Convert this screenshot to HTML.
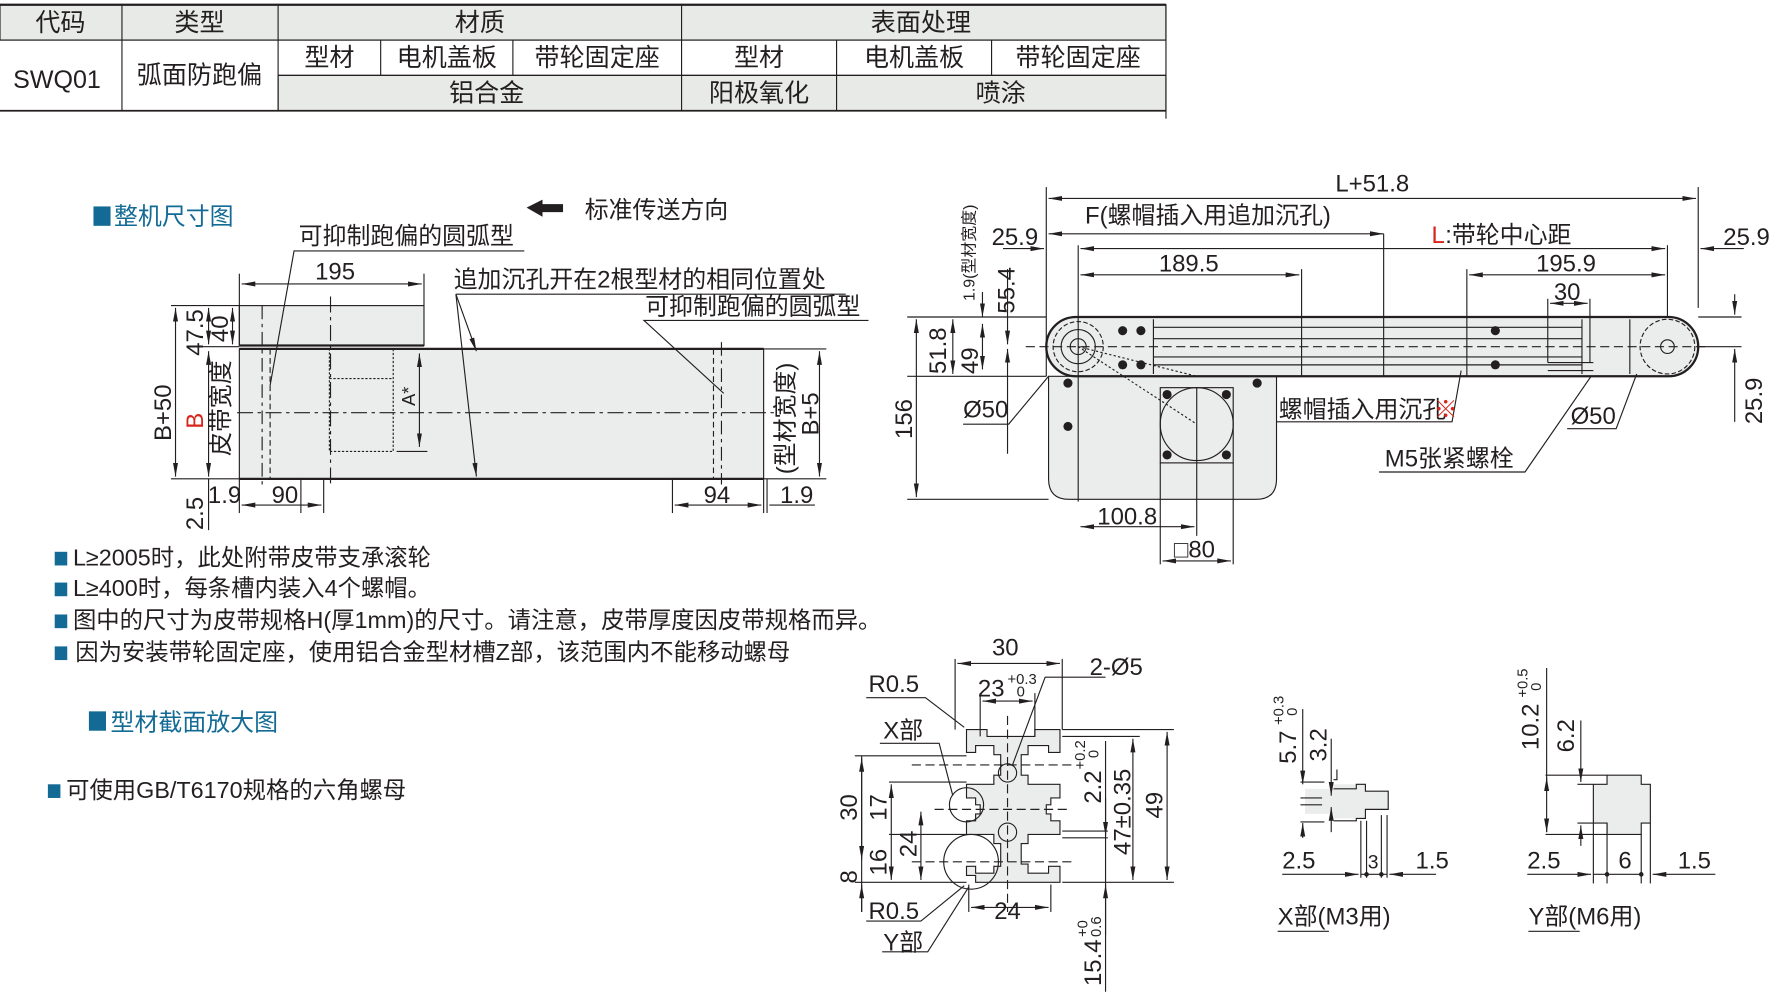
<!DOCTYPE html>
<html><head><meta charset="utf-8"><style>
html,body{margin:0;padding:0;background:#fff;}
svg{display:block;}
text{font-family:"Liberation Sans","Noto Sans CJK SC",sans-serif;fill:#231f20;}
</style></head><body>
<svg width="1778" height="1001" viewBox="0 0 1560 878" xmlns="http://www.w3.org/2000/svg">
<defs>
<marker id="a" viewBox="0 0 12 6" refX="12" refY="3" markerWidth="12" markerHeight="6" orient="auto-start-reverse" markerUnits="userSpaceOnUse"><path d="M0,0.8 L12,3 L0,5.2z" fill="#231f20"/></marker>
</defs>
<!-- TABLE -->
<g stroke="#231f20" stroke-width="1">
<rect x="0" y="4" width="1023" height="31" fill="#e7eae7"/>
<rect x="244" y="66" width="779" height="31" fill="#e7eae7"/>
<line x1="0" y1="4" x2="1023" y2="4" stroke-width="2"/>
<line x1="0" y1="35" x2="1023" y2="35"/>
<line x1="244" y1="66" x2="1023" y2="66"/>
<line x1="0" y1="97" x2="1023" y2="97" stroke-width="1.5"/>
<line x1="107" y1="4" x2="107" y2="97"/><line x1="244" y1="4" x2="244" y2="97"/>
<line x1="598" y1="4" x2="598" y2="97"/><line x1="1023" y1="4" x2="1023" y2="104"/>
<line x1="334" y1="35" x2="334" y2="66"/><line x1="450" y1="35" x2="450" y2="66"/>
<line x1="734" y1="35" x2="734" y2="97"/><line x1="870" y1="35" x2="870" y2="66"/>
</g>
<g font-size="22" text-anchor="middle">
<text x="53" y="27">代码</text><text x="175" y="27">类型</text><text x="421" y="27">材质</text><text x="808" y="27">表面处理</text>
<text x="289" y="58">型材</text><text x="392" y="58">电机盖板</text><text x="524" y="58">带轮固定座</text>
<text x="666" y="58">型材</text><text x="802" y="58">电机盖板</text><text x="946" y="58">带轮固定座</text>
<text x="427" y="89">铝合金</text><text x="666" y="89">阳极氧化</text><text x="878" y="89">喷涂</text>
<text x="50" y="77">SWQ01</text><text x="175" y="73">弧面防跑偏</text>
</g>

<!-- LEFT DRAWING -->
<rect x="82" y="181" width="15" height="17" fill="#136b95"/>
<text x="100" y="197" font-size="21" style="fill:#136b95">整机尺寸图</text>
<path d="M462,182 L476,175 L476,179 L494,179 L494,186 L476,186 L476,190z" fill="#231f20"/>
<text x="513" y="191" font-size="21">标准传送方向</text>
<g stroke="#231f20" stroke-width="1" fill="none">
<rect x="210" y="268" width="162" height="35" fill="#ebedec"/>
<rect x="210" y="306" width="460" height="114" fill="#ebedec"/>
<line x1="210" y1="303" x2="372" y2="303" stroke-width="2"/>
<line x1="210" y1="306" x2="670" y2="306" stroke-width="2"/>
<line x1="210" y1="420" x2="670" y2="420" stroke-width="2"/>
<line x1="208" y1="362" x2="680" y2="362" stroke-dasharray="14,4,3,4"/>
<line x1="290" y1="260" x2="290" y2="425" stroke-dasharray="14,4,3,4"/>
<line x1="230" y1="268" x2="230" y2="425" stroke-dasharray="12,4,3,4"/>
<line x1="237" y1="306" x2="237" y2="420" stroke-dasharray="5,3"/>
<line x1="626" y1="306" x2="626" y2="420" stroke-dasharray="5,3"/>
<line x1="633" y1="300" x2="633" y2="425" stroke-dasharray="12,4,3,4"/>
<rect x="289" y="306" width="56" height="90" stroke-dasharray="2,1.5"/>
<line x1="289" y1="332" x2="345" y2="332" stroke-dasharray="2,1.5"/>
<line x1="348" y1="306" x2="375" y2="306"/><line x1="348" y1="396" x2="375" y2="396"/>
<line x1="368" y1="310" x2="368" y2="392" marker-start="url(#a)" marker-end="url(#a)"/>
<line x1="210" y1="240" x2="210" y2="303"/><line x1="372" y1="240" x2="372" y2="268"/>
<line x1="212" y1="249" x2="370" y2="249" marker-start="url(#a)" marker-end="url(#a)"/>
<line x1="150" y1="268" x2="210" y2="268"/><line x1="150" y1="420" x2="210" y2="420"/>
<line x1="178" y1="304" x2="210" y2="304"/>
<line x1="154" y1="270" x2="154" y2="418" marker-start="url(#a)" marker-end="url(#a)"/>
<line x1="183" y1="270" x2="183" y2="302" marker-start="url(#a)" marker-end="url(#a)"/>
<line x1="204" y1="270" x2="204" y2="302" marker-start="url(#a)" marker-end="url(#a)"/>
<line x1="183" y1="308" x2="183" y2="418" marker-start="url(#a)" marker-end="url(#a)"/>
<line x1="183" y1="420" x2="183" y2="465"/>
<line x1="210" y1="420" x2="210" y2="450"/><line x1="264" y1="420" x2="264" y2="450"/><line x1="284" y1="420" x2="284" y2="450"/>
<line x1="212" y1="443" x2="282" y2="443" marker-start="url(#a)" marker-end="url(#a)"/>
<line x1="590" y1="420" x2="590" y2="450"/><line x1="670" y1="420" x2="670" y2="450"/><line x1="673" y1="420" x2="673" y2="450"/>
<line x1="592" y1="443" x2="668" y2="443" marker-start="url(#a)" marker-end="url(#a)"/>
<line x1="675" y1="443" x2="715" y2="443"/>
<line x1="670" y1="306" x2="725" y2="306"/><line x1="670" y1="420" x2="725" y2="420"/>
<line x1="719" y1="308" x2="719" y2="418" marker-start="url(#a)" marker-end="url(#a)"/>
<polyline points="460,220 258,220 237,338"/>
<line x1="400" y1="258" x2="742" y2="258"/>
<line x1="400" y1="258" x2="418" y2="308" marker-end="url(#a)"/>
<line x1="400" y1="258" x2="418" y2="418" marker-end="url(#a)"/>
<polyline points="762,281 565,281 635,345"/>
</g>
<g font-size="21">
<text x="262" y="214">可抑制跑偏的圆弧型</text>
<text x="398" y="252">追加沉孔开在2根型材的相同位置处</text>
<text x="566" y="276">可抑制跑偏的圆弧型</text>
<text x="294" y="245" text-anchor="middle">195</text>
<text x="250" y="441" text-anchor="middle">90</text>
<text x="629" y="441" text-anchor="middle">94</text>
<text x="699" y="441" text-anchor="middle">1.9</text>
<text x="197" y="441" text-anchor="middle">1.9</text>
<text transform="translate(178,465) rotate(-90)">2.5</text>
<text transform="translate(178,312) rotate(-90)">47.5</text>
<text transform="translate(200,300) rotate(-90)">40</text>
<text transform="translate(150,362) rotate(-90)" text-anchor="middle">B+50</text>
<text transform="translate(178,376) rotate(-90)" style="fill:#d8251c">B</text>
<text transform="translate(201,400) rotate(-90)">皮带宽度</text>
<text transform="translate(696,416) rotate(-90)">(型材宽度)</text>
<text transform="translate(718,382) rotate(-90)">B+5</text>
<text transform="translate(364,356) rotate(-90)" font-size="16">A*</text>
</g>

<!-- NOTES -->
<g font-size="20.5">
<rect x="48" y="484" width="11" height="12" fill="#136b95"/><text x="64" y="496">L≥2005时，此处附带皮带支承滚轮</text>
<rect x="48" y="511" width="11" height="12" fill="#136b95"/><text x="64" y="523">L≥400时，每条槽内装入4个螺帽。</text>
<rect x="48" y="539" width="11" height="12" fill="#136b95"/><text x="64" y="551">图中的尺寸为皮带规格H(厚1mm)的尺寸。请注意，皮带厚度因皮带规格而异。</text>
<rect x="48" y="567" width="11" height="12" fill="#136b95"/><text x="66" y="579">因为安装带轮固定座，使用铝合金型材槽Z部，该范围内不能移动螺母</text>
<rect x="78" y="624" width="15" height="17" fill="#136b95"/><text x="97" y="641" font-size="21" style="fill:#136b95">型材截面放大图</text>
<rect x="42" y="688" width="11" height="12" fill="#136b95"/><text x="58" y="700">可使用GB/T6170规格的六角螺母</text>
</g>

<!-- RIGHT DRAWING -->
<g stroke="#231f20" stroke-width="1" fill="none">
<path d="M920,330 L1120,330 L1120,420 Q1120,438 1102,438 L938,438 Q920,438 920,420z" fill="#ebedec"/>
<path d="M944,278 L1464,278 A26,26 0 0 1 1464,330 L944,330 A26,26 0 0 1 944,278z" fill="#ebedec" stroke-width="2"/>
<line x1="1012" y1="280" x2="1012" y2="328"/>
<line x1="1388" y1="280" x2="1388" y2="328"/><line x1="1430" y1="280" x2="1430" y2="328"/>
<line x1="1012" y1="287" x2="1388" y2="287"/><line x1="1012" y1="297" x2="1388" y2="297"/>
<line x1="1012" y1="313" x2="1388" y2="313"/><line x1="1012" y1="320" x2="1388" y2="320"/>
<line x1="900" y1="304" x2="1500" y2="304" stroke-dasharray="8,4"/>
<circle cx="946" cy="304" r="22" stroke-dasharray="4,2"/><circle cx="946" cy="304" r="15"/><circle cx="946" cy="304" r="7"/>
<circle cx="1463" cy="304" r="24" stroke-dasharray="4,2"/><circle cx="1463" cy="304" r="6"/>
<rect x="1018" y="340" width="64" height="66"/>
<circle cx="1050" cy="372" r="32"/>
<line x1="946" y1="304" x2="1050" y2="372" stroke-dasharray="2,2"/>
<line x1="946" y1="304" x2="1050" y2="330" stroke-dasharray="2,2"/>
<line x1="1050" y1="340" x2="1050" y2="406"/>
<line x1="1358" y1="318" x2="1398" y2="318"/><line x1="1358" y1="325" x2="1398" y2="325"/>
<line x1="918" y1="164" x2="918" y2="330"/><line x1="1490" y1="164" x2="1490" y2="270"/>
<line x1="920" y1="174" x2="1488" y2="174" marker-start="url(#a)" marker-end="url(#a)"/>
<line x1="920" y1="205" x2="1214" y2="205" marker-start="url(#a)" marker-end="url(#a)"/>
<line x1="1214" y1="205" x2="1214" y2="330"/>
<line x1="946" y1="215" x2="946" y2="440"/><line x1="1463" y1="215" x2="1463" y2="278"/>
<line x1="880" y1="218" x2="916" y2="218" marker-end="url(#a)"/>
<line x1="948" y1="218" x2="1461" y2="218" marker-start="url(#a)" marker-end="url(#a)"/>
<line x1="1530" y1="218" x2="1492" y2="218" marker-end="url(#a)"/>
<line x1="1142" y1="236" x2="1142" y2="330"/><line x1="1287" y1="236" x2="1287" y2="330"/>
<line x1="948" y1="241" x2="1140" y2="241" marker-start="url(#a)" marker-end="url(#a)"/>
<line x1="1289" y1="241" x2="1461" y2="241" marker-start="url(#a)" marker-end="url(#a)"/>
<line x1="1358" y1="262" x2="1358" y2="318"/><line x1="1395" y1="262" x2="1395" y2="318"/>
<line x1="1360" y1="266" x2="1393" y2="266" marker-start="url(#a)" marker-end="url(#a)"/>
<line x1="796" y1="278" x2="918" y2="278"/><line x1="796" y1="330" x2="918" y2="330"/>
<line x1="1490" y1="278" x2="1528" y2="278"/><line x1="1490" y1="304" x2="1528" y2="304"/>
<line x1="1522" y1="258" x2="1522" y2="276" marker-end="url(#a)"/>
<line x1="1522" y1="370" x2="1522" y2="306" marker-end="url(#a)"/>
<line x1="862" y1="256" x2="862" y2="278" marker-end="url(#a)"/>
<line x1="884" y1="236" x2="884" y2="302" marker-end="url(#a)"/>
<line x1="884" y1="398" x2="884" y2="306" marker-end="url(#a)"/>
<line x1="862" y1="284" x2="862" y2="324" marker-start="url(#a)" marker-end="url(#a)"/>
<line x1="836" y1="280" x2="836" y2="328" marker-start="url(#a)" marker-end="url(#a)"/>
<line x1="796" y1="438" x2="920" y2="438"/>
<line x1="804" y1="280" x2="804" y2="436" marker-start="url(#a)" marker-end="url(#a)"/>
<line x1="1050" y1="406" x2="1050" y2="470"/>
<line x1="948" y1="462" x2="1048" y2="462" marker-start="url(#a)" marker-end="url(#a)"/>
<line x1="1018" y1="406" x2="1018" y2="495"/><line x1="1082" y1="406" x2="1082" y2="495"/>
<line x1="1020" y1="492" x2="1080" y2="492" marker-start="url(#a)" marker-end="url(#a)"/>
<polyline points="845,372 885,372 920,330"/>
<polyline points="1120,370 1274,370 1282,325"/>
<polyline points="1210,414 1338,414 1396,330"/>
<polyline points="1375,376 1418,376 1436,328"/>
</g>
<g fill="#231f20">
<circle cx="985" cy="290" r="4"/><circle cx="1001" cy="290" r="4"/><circle cx="985" cy="320" r="4"/><circle cx="1001" cy="320" r="4"/>
<circle cx="1312" cy="290" r="4"/><circle cx="1312" cy="320" r="4"/>
<circle cx="937" cy="336" r="4"/><circle cx="937" cy="374" r="4"/><circle cx="1103" cy="336" r="4"/>
<circle cx="1024" cy="346" r="4"/><circle cx="1076" cy="346" r="4"/><circle cx="1024" cy="399" r="4"/><circle cx="1076" cy="399" r="4"/>
</g>
<g font-size="21">
<text x="1204" y="168" text-anchor="middle">L+51.8</text>
<text x="952" y="196">F(螺帽插入用追加沉孔)</text>
<text x="1256" y="213" style="fill:#d8251c">L</text><text x="1268" y="213">:带轮中心距</text>
<text x="870" y="215">25.9</text><text x="1512" y="215">25.9</text>
<text x="1043" y="238" text-anchor="middle">189.5</text>
<text x="1374" y="238" text-anchor="middle">195.9</text>
<text x="1375" y="263" text-anchor="middle">30</text>
<text x="1122" y="366">螺帽插入用沉孔</text><text x="1258" y="366" style="fill:#d8251c">※</text>
<text x="845" y="366">Ø50</text><text x="1378" y="372">Ø50</text>
<text x="1215" y="409">M5张紧螺栓</text>
<text x="989" y="460" text-anchor="middle">100.8</text>
<text x="1030" y="489">□80</text>
<text transform="translate(890,275) rotate(-90)">55.4</text>
<text transform="translate(858,328) rotate(-90)">49</text>
<text transform="translate(830,328) rotate(-90)">51.8</text>
<text transform="translate(800,385) rotate(-90)">156</text>
<text transform="translate(1546,372) rotate(-90)">25.9</text>
<text transform="translate(855,264) rotate(-90)" font-size="14">1.9(型材宽度)</text>
</g>

<!-- SECTION -->
<g stroke="#231f20" stroke-width="1" fill="none">
<path d="M848,640 L866,640 L866,646 L908,646 L908,640 L930,640 L930,660 L920,660 L920,654 L902,654 L902,662 L896,662 L896,680 L902,680 L902,688 L930,688 L930,700 L922,700 L922,706 L918,706 L918,714 L922,714 L922,720 L930,720 L930,732 L902,732 L902,740 L896,740 L896,758 L902,758 L902,766 L920,766 L920,760 L930,760 L930,774 L856,774 L856,768 L848,768 L848,760 L856,760 L856,766 L872,766 L872,760 L878,760 L878,740 L872,740 L872,732 L848,732 L848,720 L856,720 L856,714 L860,714 L860,706 L856,706 L856,700 L848,700 L848,688 L872,688 L872,680 L878,680 L878,662 L872,662 L872,654 L856,654 L856,660 L848,660z" fill="#ebedec"/>
<line x1="884" y1="628" x2="884" y2="800" stroke-dasharray="8,4"/>
<line x1="800" y1="671" x2="940" y2="671" stroke-dasharray="8,4"/>
<line x1="800" y1="756" x2="940" y2="756" stroke-dasharray="8,4"/>
<line x1="820" y1="710" x2="940" y2="710" stroke-dasharray="8,4"/>
<circle cx="884" cy="678" r="8"/><circle cx="884" cy="730" r="8"/>
<circle cx="848" cy="706" r="15"/><circle cx="852" cy="756" r="24"/>
<line x1="838" y1="578" x2="838" y2="640"/><line x1="932" y1="578" x2="932" y2="640"/>
<line x1="840" y1="582" x2="930" y2="582" marker-start="url(#a)" marker-end="url(#a)"/>
<line x1="860" y1="608" x2="860" y2="646"/><line x1="908" y1="608" x2="908" y2="646"/>
<line x1="862" y1="615" x2="906" y2="615" marker-start="url(#a)" marker-end="url(#a)"/>
<line x1="932" y1="640" x2="1030" y2="640"/><line x1="932" y1="646" x2="1000" y2="646"/>
<line x1="932" y1="774" x2="1030" y2="774"/><line x1="750" y1="774" x2="848" y2="774"/>
<line x1="1024" y1="642" x2="1024" y2="772" marker-start="url(#a)" marker-end="url(#a)"/>
<line x1="994" y1="648" x2="994" y2="772" marker-start="url(#a)" marker-end="url(#a)"/>
<line x1="970" y1="650" x2="970" y2="870"/>
<line x1="970" y1="700" x2="970" y2="733" marker-end="url(#a)"/>
<line x1="970" y1="820" x2="970" y2="776" marker-end="url(#a)"/>
<line x1="932" y1="729" x2="972" y2="729"/><line x1="932" y1="735" x2="972" y2="735"/>
<line x1="756" y1="663" x2="756" y2="800"/>
<line x1="756" y1="665" x2="756" y2="754" marker-start="url(#a)" marker-end="url(#a)"/>
<line x1="756" y1="800" x2="756" y2="776" marker-end="url(#a)"/>
<line x1="750" y1="663" x2="848" y2="663"/>
<line x1="780" y1="686" x2="848" y2="686"/>
<line x1="782" y1="688" x2="782" y2="772" marker-start="url(#a)" marker-end="url(#a)"/>
<line x1="808" y1="712" x2="808" y2="772" marker-start="url(#a)" marker-end="url(#a)"/>
<line x1="780" y1="732" x2="848" y2="732"/>
<line x1="850" y1="776" x2="850" y2="800"/><line x1="922" y1="776" x2="922" y2="800"/>
<line x1="852" y1="796" x2="920" y2="796" marker-start="url(#a)" marker-end="url(#a)"/>
<polyline points="760,612 812,612 846,638"/>
<polyline points="970,594 917,594 888,672"/>
<polyline points="772,652 824,652 836,698"/>
<polyline points="760,808 808,808 846,777"/>
<polyline points="774,835 814,835 850,778"/>
</g>
<g font-size="21">
<text x="882" y="575" text-anchor="middle">30</text>
<text x="858" y="611">23</text><text x="884" y="600" font-size="13">+0.3</text><text x="892" y="611" font-size="13">0</text>
<text x="956" y="592">2-Ø5</text>
<text x="762" y="607">R0.5</text><text x="775" y="648">X部</text>
<text x="762" y="806">R0.5</text><text x="775" y="834">Y部</text>
<text x="884" y="806" text-anchor="middle">24</text>
<text transform="translate(752,720) rotate(-90)">30</text>
<text transform="translate(778,720) rotate(-90)">17</text>
<text transform="translate(804,752) rotate(-90)">24</text>
<text transform="translate(778,768) rotate(-90)">16</text>
<text transform="translate(752,775) rotate(-90)">8</text>
<text transform="translate(966,705) rotate(-90)">2.2</text>
<text transform="translate(952,675) rotate(-90)" font-size="13">+0.2</text><text transform="translate(964,665) rotate(-90)" font-size="13">0</text>
<text transform="translate(992,750) rotate(-90)">47±0.35</text>
<text transform="translate(1020,718) rotate(-90)">49</text>
<text transform="translate(966,865) rotate(-90)">15.4</text>
<text transform="translate(954,822) rotate(-90)" font-size="13">+0</text><text transform="translate(966,822) rotate(-90)" font-size="13">0.6</text>
</g>

<!-- X / Y detail -->
<g stroke="#231f20" stroke-width="1" fill="none">
<path d="M1145,692 L1170,692 L1170,688 L1198,688 L1198,694 L1218,694 L1218,710 L1198,710 L1198,718 L1170,718 L1170,714 L1145,714z" fill="#ebedec" stroke="none"/>
<path d="M1141,686 L1162,686 M1141,721 L1162,721 M1173,675 L1173,684 L1170,684 M1170,692 L1190,692 L1190,688 L1198,688 L1198,694 L1218,694 L1218,710 L1198,710 L1198,718 L1190,718 L1190,720 L1170,720 M1141,700 L1160,700 M1141,706 L1160,706"/>
<line x1="1194" y1="720" x2="1194" y2="770"/><line x1="1199" y1="720" x2="1199" y2="770"/>
<line x1="1212" y1="715" x2="1212" y2="770"/><line x1="1217" y1="715" x2="1217" y2="770"/>
<line x1="1125" y1="767" x2="1192" y2="767" marker-end="url(#a)"/>
<line x1="1260" y1="767" x2="1219" y2="767" marker-end="url(#a)"/>
<line x1="1194" y1="767" x2="1217" y2="767"/>
<line x1="1143" y1="622" x2="1143" y2="688" marker-end="url(#a)"/>
<line x1="1143" y1="735" x2="1143" y2="722" marker-end="url(#a)"/>
<line x1="1168" y1="648" x2="1168" y2="698" marker-end="url(#a)"/>
<line x1="1168" y1="730" x2="1168" y2="708" marker-end="url(#a)"/>
<line x1="1121" y1="817" x2="1166" y2="817"/>
<path d="M1398,688 L1410,688 L1410,680 L1440,680 L1440,688 L1448,688 L1448,722 L1440,722 L1440,732 L1410,732 L1410,722 L1398,722z" fill="#ebedec" stroke="none"/>
<path d="M1356,680 L1410,680 L1440,680 L1440,688 L1448,688 L1448,722 L1440,722 L1440,732 L1410,732 L1410,722 L1398,722 M1398,688 L1410,688 L1410,680 M1384,688 L1404,688 M1384,722 L1404,722 M1356,732 L1410,732"/>
<line x1="1398" y1="688" x2="1398" y2="775"/><line x1="1410" y1="722" x2="1410" y2="775"/>
<line x1="1440" y1="732" x2="1440" y2="775"/><line x1="1448" y1="722" x2="1448" y2="775"/>
<line x1="1340" y1="767" x2="1396" y2="767" marker-end="url(#a)"/>
<line x1="1505" y1="767" x2="1450" y2="767" marker-end="url(#a)"/>
<line x1="1398" y1="767" x2="1440" y2="767"/>
<line x1="1357" y1="586" x2="1357" y2="730"/>
<line x1="1357" y1="690" x2="1357" y2="682" marker-end="url(#a)"/>
<line x1="1357" y1="720" x2="1357" y2="730" marker-end="url(#a)"/>
<line x1="1387" y1="632" x2="1387" y2="686" marker-end="url(#a)"/>
<line x1="1387" y1="742" x2="1387" y2="724" marker-end="url(#a)"/>
<line x1="1341" y1="817" x2="1386" y2="817"/>
</g>
<g fill="#231f20"><circle cx="1199" cy="767" r="2"/><circle cx="1212" cy="767" r="2"/><circle cx="1410" cy="767" r="2"/><circle cx="1440" cy="767" r="2"/></g>
<g font-size="21">
<text x="1125" y="762">2.5</text><text x="1200" y="762" font-size="17">3</text><text x="1242" y="762">1.5</text>
<text x="1340" y="762">2.5</text><text x="1420" y="762">6</text><text x="1472" y="762">1.5</text>
<text x="1121" y="811">X部(M3用)</text><text x="1341" y="811">Y部(M6用)</text>
<text transform="translate(1137,670) rotate(-90)">5.7</text>
<text transform="translate(1126,636) rotate(-90)" font-size="13">+0.3</text><text transform="translate(1138,628) rotate(-90)" font-size="13">0</text>
<text transform="translate(1164,668) rotate(-90)">3.2</text>
<text transform="translate(1350,658) rotate(-90)">10.2</text>
<text transform="translate(1340,612) rotate(-90)" font-size="13">+0.5</text><text transform="translate(1352,606) rotate(-90)" font-size="13">0</text>
<text transform="translate(1381,660) rotate(-90)">6.2</text>
</g>
</svg>
</body></html>
